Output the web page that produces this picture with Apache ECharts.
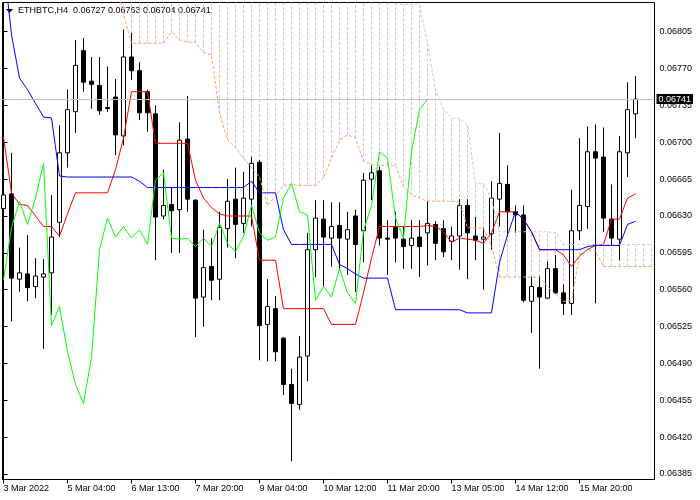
<!DOCTYPE html>
<html><head><meta charset="utf-8">
<script src="https://cdn.jsdelivr.net/npm/echarts@6/dist/echarts.min.js"></script>
<style>html,body{margin:0;padding:0;background:#fff}#c{width:700px;height:500px}</style>
</head><body><div id="c"></div>
<script>
const symbol = 'ETHBTC';
const timeframe = 'H4';
const bidPrice = 0.06741;

// x tick labels: one every 8 bars, starting at bar 0
const labelEvery = 8;
const xTickLabels = ['3 Mar 2022','5 Mar 04:00','6 Mar 13:00','7 Mar 20:00','9 Mar 04:00','10 Mar 12:00','11 Mar 20:00','13 Mar 05:00','14 Mar 12:00','15 Mar 20:00'];
const yTickValues = [0.06385,0.06420,0.06455,0.06490,0.06525,0.06560,0.06595,0.06630,0.06665,0.06700,0.06735,0.06770,0.06805];

const opens = [0.06637,0.06651,0.06570,0.06575,0.06563,0.06572,0.06576,0.06624,0.06690,0.06729,
0.06787,0.06758,0.06754,0.06733,0.06743,0.06706,0.06781,0.06768,0.06748,0.06727,
0.06630,0.06641,0.06636,0.06703,0.06645,0.06553,0.06582,0.06570,0.06618,0.06646,
0.06623,0.06646,0.06681,0.06527,0.06542,0.06514,0.06470,0.06451,0.06497,0.06598,
0.06627,0.06609,0.06621,0.06608,0.06630,0.06616,0.06665,0.06673,0.06609,0.06620,
0.06608,0.06602,0.06610,0.06614,0.06622,0.06618,0.06606,0.06611,0.06640,0.06611,
0.06608,0.06613,0.06646,0.06660,0.06634,0.06631,0.06549,0.06562,0.06552,0.06580,
0.06557,0.06547,0.06616,0.06639,0.06691,0.06686,0.06627,0.06608,0.06690,0.06727];
const closes = [0.06650,0.06571,0.06576,0.06562,0.06573,0.06575,0.06610,0.06690,0.06731,0.06773,
0.06757,0.06755,0.06730,0.06732,0.06707,0.06781,0.06768,0.06728,0.06728,0.06629,
0.06640,0.06635,0.06702,0.06646,0.06552,0.06581,0.06569,0.06619,0.06644,0.06622,
0.06647,0.06680,0.06526,0.06544,0.06501,0.06470,0.06452,0.06496,0.06598,0.06628,
0.06610,0.06620,0.06609,0.06617,0.06603,0.06664,0.06671,0.06609,0.06608,0.06609,
0.06601,0.06609,0.06601,0.06623,0.06604,0.06596,0.06611,0.06640,0.06614,0.06607,
0.06610,0.06647,0.06661,0.06634,0.06631,0.06550,0.06563,0.06553,0.06580,0.06557,
0.06547,0.06616,0.06640,0.06691,0.06685,0.06628,0.06609,0.06691,0.06731,0.06741];
const highs = [0.06659,0.06690,0.06600,0.06612,0.06590,0.06589,0.06650,0.06716,0.06750,0.06797,
0.06799,0.06781,0.06781,0.06772,0.06760,0.06807,0.06804,0.06776,0.06750,0.06735,
0.06674,0.06657,0.06719,0.06744,0.06646,0.06617,0.06609,0.06634,0.06665,0.06676,
0.06672,0.06686,0.06683,0.06570,0.06554,0.06515,0.06485,0.06516,0.06614,0.06645,
0.06645,0.06643,0.06643,0.06634,0.06636,0.06671,0.06678,0.06677,0.06626,0.06634,
0.06620,0.06626,0.06626,0.06644,0.06625,0.06626,0.06620,0.06646,0.06646,0.06629,
0.06619,0.06663,0.06709,0.06678,0.06640,0.06640,0.06572,0.06573,0.06587,0.06593,
0.06565,0.06655,0.06704,0.06715,0.06717,0.06714,0.06660,0.06706,0.06757,0.06763];
const lows = [0.06621,0.06530,0.06558,0.06549,0.06552,0.06504,0.06536,0.06610,0.06676,0.06709,
0.06748,0.06732,0.06726,0.06729,0.06688,0.06697,0.06759,0.06721,0.06710,0.06588,
0.06627,0.06595,0.06595,0.06634,0.06515,0.06525,0.06550,0.06550,0.06600,0.06590,
0.06614,0.06620,0.06493,0.06492,0.06492,0.06460,0.06397,0.06446,0.06473,0.06572,
0.06563,0.06582,0.06579,0.06574,0.06558,0.06586,0.06645,0.06602,0.06574,0.06586,
0.06580,0.06580,0.06572,0.06583,0.06588,0.06591,0.06588,0.06579,0.06570,0.06588,
0.06560,0.06598,0.06620,0.06610,0.06614,0.06548,0.06519,0.06485,0.06551,0.06556,
0.06536,0.06536,0.06607,0.06618,0.06547,0.06615,0.06602,0.06588,0.06667,0.06704];

const tenkan = [0.06705,0.06652,0.06641,0.06640,0.06630,0.06620,0.06620,0.06611,0.06632,0.06652,
0.06652,0.06652,0.06652,0.06652,0.06674,0.06704,0.06748,0.06748,0.06748,0.06699,
0.06699,0.06699,0.06699,0.06699,0.06664,0.06647,0.06638,0.06632,0.06630,0.06630,
0.06630,0.06630,0.06588,0.06588,0.06588,0.06542,0.06542,0.06542,0.06542,0.06542,
0.06542,0.06527,0.06527,0.06527,0.06527,0.06557,0.06590,0.06620,0.06620,0.06620,
0.06620,0.06620,0.06620,0.06621,0.06620,0.06615,0.06605,0.06609,0.06608,0.06607,
0.06604,0.06614,0.06634,0.06634,0.06634,0.06627,0.06615,0.06598,0.06598,0.06598,
0.06593,0.06582,0.06592,0.06598,0.06602,0.06603,0.06627,0.06627,0.06647,0.06651];
const kijun = [0.06872,0.06802,0.06761,0.06750,0.06737,0.06724,0.06723,0.06668,0.06667,0.06667,
0.06667,0.06667,0.06667,0.06667,0.06667,0.06667,0.06667,0.06663,0.06657,0.06657,
0.06657,0.06657,0.06657,0.06657,0.06657,0.06657,0.06657,0.06657,0.06657,0.06657,
0.06657,0.06663,0.06652,0.06652,0.06652,0.06617,0.06603,0.06603,0.06603,0.06603,
0.06603,0.06603,0.06584,0.06580,0.06575,0.06571,0.06571,0.06571,0.06571,0.06541,
0.06541,0.06541,0.06541,0.06541,0.06541,0.06541,0.06541,0.06541,0.06538,0.06538,
0.06538,0.06538,0.06586,0.06612,0.06634,0.06627,0.06615,0.06598,0.06598,0.06598,
0.06598,0.06598,0.06598,0.06601,0.06602,0.06602,0.06602,0.06602,0.06622,0.06625];
const chikou = [0.06569,0.06619,0.06644,0.06622,0.06647,0.06680,0.06526,0.06544,0.06501,0.06470,
0.06452,0.06496,0.06598,0.06628,0.06610,0.06620,0.06609,0.06617,0.06603,0.06664,
0.06671,0.06609,0.06608,0.06609,0.06601,0.06609,0.06601,0.06623,0.06604,0.06596,
0.06611,0.06640,0.06614,0.06607,0.06610,0.06647,0.06661,0.06634,0.06631,0.06550,
0.06563,0.06553,0.06580,0.06557,0.06547,0.06616,0.06640,0.06691,0.06685,0.06628,
0.06609,0.06691,0.06731,0.06741];
const spanA = [0.06860,0.06860,0.06860,0.06860,0.06860,0.06860,0.06860,0.06860,0.06860,0.06860,
0.06860,0.06860,0.06860,0.06860,0.06849,0.06822,0.06794,0.06794,0.06794,0.06794,
0.06794,0.06805,0.06797,0.06795,0.06795,0.06785,0.06783,0.06728,0.06702,0.06695,
0.06685,0.06676,0.06667,0.06640,0.06649,0.06659,0.06660,0.06659,0.06659,0.06659,
0.06666,0.06685,0.06702,0.06707,0.06704,0.06682,0.06679,0.06678,0.06678,0.06678,
0.06658,0.06650,0.06647,0.06644,0.06644,0.06644,0.06644,0.06643,0.06619,0.06619,
0.06618,0.06602,0.06572,0.06572,0.06572,0.06572,0.06572,0.06572,0.06563,0.06556,
0.06549,0.06550,0.06593,0.06598,0.06597,0.06582,0.06582,0.06582,0.06582,0.06582,
0.06582,0.06582];
const spanB = [0.06860,0.06860,0.06860,0.06860,0.06860,0.06860,0.06860,0.06860,0.06860,0.06860,
0.06860,0.06860,0.06860,0.06860,0.06860,0.06860,0.06860,0.06860,0.06860,0.06860,
0.06860,0.06860,0.06860,0.06860,0.06860,0.06860,0.06860,0.06860,0.06860,0.06860,
0.06860,0.06860,0.06860,0.06860,0.06860,0.06860,0.06860,0.06860,0.06860,0.06860,
0.06860,0.06860,0.06860,0.06860,0.06860,0.06860,0.06860,0.06860,0.06843,0.06831,
0.06831,0.06831,0.06831,0.06794,0.06750,0.06731,0.06723,0.06723,0.06716,0.06661,
0.06661,0.06646,0.06615,0.06615,0.06615,0.06615,0.06615,0.06615,0.06615,0.06614,
0.06603,0.06603,0.06603,0.06603,0.06603,0.06603,0.06603,0.06603,0.06603,0.06603,
0.06603,0.06603];

// visible window
const X_MIN = -0.125, X_MAX = 81.375;
const Y_MIN = 0.0637978, Y_MAX = 0.0683273;
const FONT = '"Liberation Sans", Arial, sans-serif';
const C_SPANA = '#F4A460', C_SPANB = '#D8BFD8';

const chart = echarts.init(document.getElementById('c'), null, {renderer: 'canvas'});
const candleData = opens.map((o, i) => [i, o, closes[i], lows[i], highs[i]]);
const toXY = arr => arr.map((v, i) => [i, v]);
const hatchData = spanA.map((a, i) => [i, a, spanB[i]]);
const xTickIdx = xTickLabels.map((_, k) => k * labelEvery);
const last = opens.length - 1;
const title = symbol + ',' + timeframe + '  ' + [opens[last], highs[last], lows[last], closes[last]].map(v => v.toFixed(5)).join(' ');

const lineSeries = (data, color, dash) => ({
  type: 'line', data: data, showSymbol: false, symbol: 'none', silent: true,
  lineStyle: {color: color, width: 1, type: dash || 'solid'}, clip: true
});

const bidSeries = lineSeries(toXY(closes), '#C0C0C0');
bidSeries.lineStyle.opacity = 0;
bidSeries.markLine = {
  symbol: 'none', silent: true, animation: false, precision: 5,
  lineStyle: {color: '#C0C0C0', type: 'solid', width: 1, opacity: 1},
  label: {show: true, position: 'end', formatter: () => bidPrice.toFixed(5), backgroundColor: '#000', color: '#fff',
    fontSize: 9, fontFamily: FONT, padding: [1, 2, 0, 2], distance: 2},
  data: [{yAxis: bidPrice}]
};

chart.setOption({
  animation: false,
  backgroundColor: '#fff',
  grid: {left: 2.5, top: 2.5, width: 652, height: 477, show: true, borderColor: '#000', borderWidth: 1, backgroundColor: '#fff'},
  xAxis: {
    type: 'value', min: X_MIN, max: X_MAX, position: 'bottom',
    axisLine: {show: true, lineStyle: {color: '#000', width: 1}},
    axisTick: {show: true, length: 4, customValues: xTickIdx, lineStyle: {color: '#000'}},
    axisLabel: {customValues: xTickIdx, formatter: v => xTickLabels[Math.round(v / labelEvery)], align: 'left', margin: 5,
      fontSize: 9, color: '#000', fontFamily: FONT},
    splitLine: {show: false}
  },
  yAxis: {
    type: 'value', position: 'right', min: Y_MIN, max: Y_MAX,
    axisLine: {show: true, lineStyle: {color: '#000', width: 1}},
    axisTick: {show: true, length: 4, customValues: yTickValues, lineStyle: {color: '#000'}},
    axisLabel: {customValues: yTickValues, formatter: v => v.toFixed(5), margin: 5, fontSize: 9, color: '#000', fontFamily: FONT},
    splitLine: {show: false}
  },
  graphic: [
    {type: 'polygon', shape: {points: [[6, 9], [13, 9], [9.5, 13]]}, style: {fill: '#000'}},
    {type: 'text', x: 18, y: 11, style: {text: title, font: '9px ' + FONT, fill: '#000', verticalAlign: 'middle'}}
  ],
  series: [
    bidSeries,
    {
      type: 'candlestick', data: candleData, barWidth: 4, clip: true, silent: true,
      itemStyle: {color: '#fff', color0: '#000', borderColor: '#000', borderColor0: '#000', borderWidth: 1}
    },
    lineSeries(toXY(tenkan), '#FF0000'),
    lineSeries(toXY(kijun), '#0000FF'),
    {
      type: 'custom', data: hatchData, clip: true, silent: true,
      renderItem: (params, api) => {
        const x = api.value(0), a = api.value(1), b = api.value(2);
        const p1 = api.coord([x, a]), p2 = api.coord([x, b]);
        return {type: 'line', shape: {x1: p1[0], y1: p1[1], x2: p2[0], y2: p2[1]},
          style: {stroke: a > b ? C_SPANA : C_SPANB, lineWidth: 1, lineDash: [3, 2]}};
      }
    },
    lineSeries(toXY(chikou), '#00FF00'),
    lineSeries(toXY(spanA), C_SPANA, [3, 2]),
    lineSeries(toXY(spanB), C_SPANB, [3, 2])
  ]
});
</script></body></html>
